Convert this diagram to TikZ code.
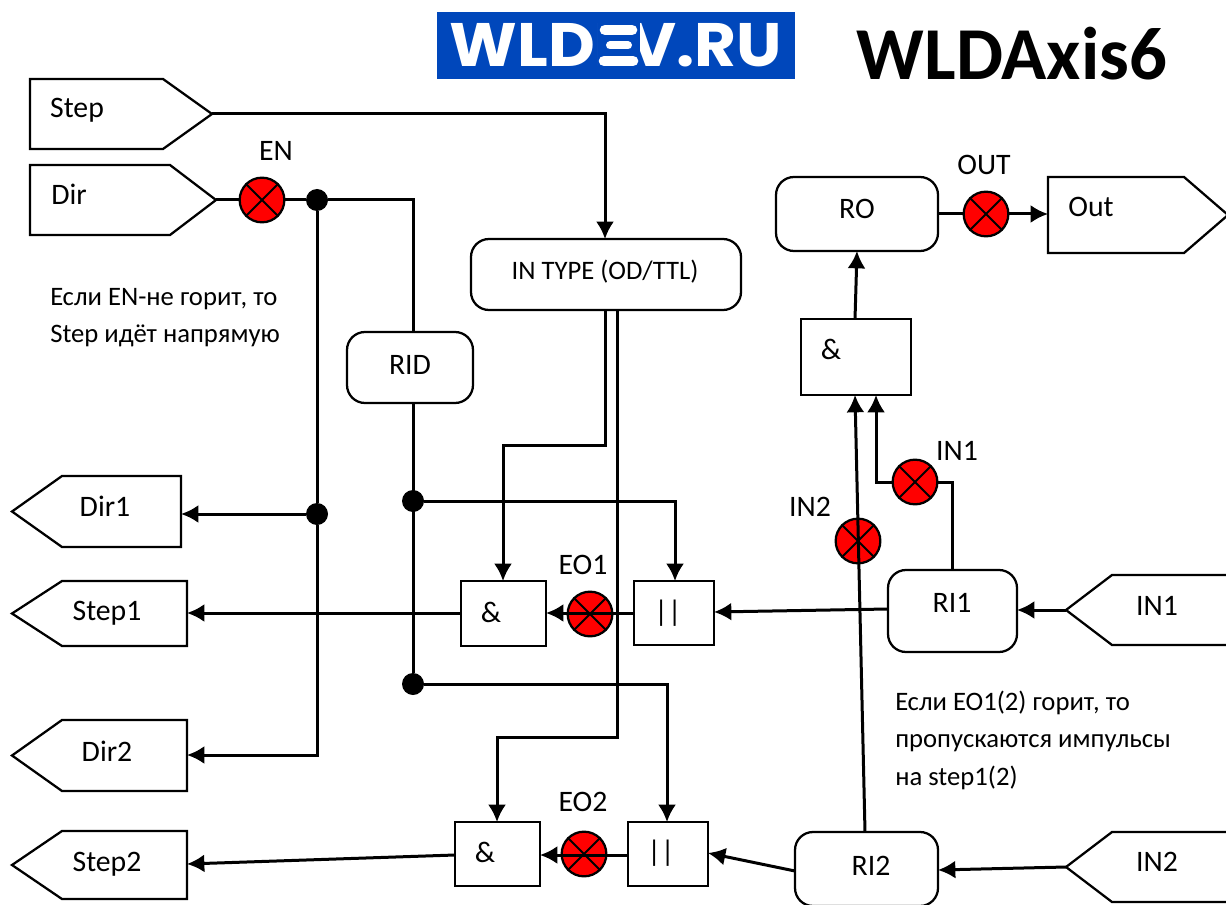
\documentclass[tikz,border=0pt]{standalone}
\usepackage{fontspec}
\setmainfont{Carlito}
\newfontfamily\logofont{Poppins}[Scale=1]
\usetikzlibrary{arrows.meta}
\definecolor{logoblue}{HTML}{0047BB}
\newcommand{\fsz}[1]{\fontsize{#1}{#1}\selectfont}
\tikzset{
  x=0.75pt,y=-0.75pt,
  shapeline/.style={draw=black,line width=1.7pt,line join=miter},
  plainbox/.style={shapeline,fill=white,rectangle,inner sep=0pt},
  roundbox/.style={plainbox,rounded corners=13.5pt},
  lbl/.style={inner sep=0pt,font=\fsz{22.3}},
  notelbl/.style={inner sep=0pt,anchor=west,font=\fsz{20}},
  wire/.style={line width=2.25pt,draw=black},
  arr/.style={wire,-{Latex[length=13pt,width=13.5pt]}},
  lampnode/.style={circle,draw=black,line width=1.7pt,fill=red,inner sep=0pt,minimum size=33.5pt},
  dotnode/.style={circle,fill=black,inner sep=0pt,minimum size=16.5pt},
  logobar/.style={draw=white,line cap=round},
}
% box by pixel corners
\newcommand{\bx}[7][plainbox]{\node[#1,minimum width=#5*0.75pt-#3*0.75pt,minimum height=#6*0.75pt-#4*0.75pt] (#2) at ({(#3+#5)/2},{(#4+#6)/2}) {#7};}
% lamp
\newcommand{\lamp}[3]{\node[lampnode] (#1) at (#2,#3) {};
  \draw[line width=1.5pt] (#1.45) -- (#1.225) (#1.135) -- (#1.315);}
% pentagon pointing right: left x, knee x, tip x, top y, bottom y
\newcommand{\pentR}[6]{\draw[shapeline,fill=white] (#2,#5) -- (#3,#5) -- (#4,{(#5+#6)/2}) -- (#3,#6) -- (#2,#6) -- cycle;
  \coordinate (#1) at (#4,{(#5+#6)/2});}
% pentagon pointing left: tip x, knee x, right x, top y, bottom y
\newcommand{\pentL}[6]{\draw[shapeline,fill=white] (#2,{(#5+#6)/2}) -- (#3,#5) -- (#4,#5) -- (#4,#6) -- (#3,#6) -- cycle;
  \coordinate (#1) at (#2,{(#5+#6)/2});}
\begin{document}
\begin{tikzpicture}
\useasboundingbox (0,0) rectangle (1226,905);
% header
\node[fill=logoblue,inner sep=0pt,minimum width=268.5pt,minimum height=50.25pt] (logo) at (616,45.5) {};
\node[inner sep=0pt,text=white,font=\logofont\fsz{46}\bfseries] (logotext) at (616,45) {\scalebox{1.05}[1]{WLDEV.RU}};
\fill[logoblue] (598,20) rectangle (639.5,70);
\draw[logobar,line width=8pt] (605,30) -- (632,30);
\draw[logobar,line width=6pt] (610,45.5) -- (628,45.5);
\draw[logobar,line width=8pt] (604,61) -- (633,61);
\node[inner sep=0pt,font=\fsz{56}\bfseries] (title) at (1012,54) {WLDAxis6};
% signal shapes
\pentR{stepin}{30}{163}{212}{79}{149}{}
\pentR{dirin}{30}{170}{216}{165}{235}{}
\pentR{outsig}{1048}{1184}{1228}{177}{253}{}
\pentL{dira}{12}{62}{181}{476}{547}{}
\pentL{stepa}{12}{62}{187}{581}{646}{}
\pentL{dirb}{12}{62}{187}{720}{791}{}
\pentL{stepb}{12}{62}{187}{831}{899}{}
\pentL{ina}{1066}{1112}{1228}{575}{645}{}
\pentL{inb}{1066}{1112}{1228}{832}{902}{}
% boxes
\bx[roundbox]{intype}{471}{239}{741}{310}{}
\bx[roundbox]{rid}{347}{332}{473}{403}{}
\bx[roundbox]{ro}{776}{177}{938}{251}{}
\bx[roundbox]{ria}{888}{570}{1017}{652}{}
\bx[roundbox]{rib}{795}{832}{938}{906}{}
\bx{andtop}{801}{319}{911}{395}{}
\bx{anda}{461}{581}{546}{646}{}
\bx{ora}{634}{581}{714}{645}{}
\bx{andb}{455}{822}{540}{886}{}
\bx{orb}{628}{822}{708}{886}{}
% lamps
\lamp{lampen}{262}{200}
\lamp{lampout}{986}{214}
\lamp{lampina}{915}{482}
\lamp{lampinb}{858}{541}
\lamp{lampa}{590}{614}
\lamp{lampb}{584}{854}
% dots
\node[dotnode] (dotdir) at (317,200) {};
\node[dotnode] (dotdira) at (317,514) {};
\node[dotnode] (dotrida) at (413,501) {};
\node[dotnode] (dotridb) at (413,684) {};
% junction coordinates
\coordinate (steptop) at (605,114);
\coordinate (typeleft) at (605,310);
\coordinate (typeleftb) at (605,445);
\coordinate (typelefta) at (503,445);
\coordinate (typeright) at (617,310);
\coordinate (typerightb) at (617,737);
\coordinate (typerighta) at (497,737);
\coordinate (ridtop) at (413,200);
\coordinate (ridin) at (413,332);
\coordinate (ridout) at (413,403);
\coordinate (dirbend) at (317,755);
\coordinate (orainT) at (675,501);
\coordinate (orbinT) at (667,684);
\coordinate (andaT) at (503,581);
\coordinate (orTa) at (675,581);
\coordinate (andbT) at (497,822);
\coordinate (orTb) at (667,822);
\coordinate (stepintop) at (605,239);
\coordinate (ina1) at (952,570);
\coordinate (ina2) at (952,482);
\coordinate (ina3) at (876,482);
\coordinate (ina4) at (876,395);
\coordinate (inb1) at (865,832);
\coordinate (inb2) at (855,395);
\coordinate (andtopout) at (855,319);
\coordinate (roin) at (857,251);
\coordinate (rowest) at (938,214);
\coordinate (outin) at (1048,214);
\coordinate (orap) at (634,613);
\coordinate (andap) at (546,613);
\coordinate (anda1) at (461,613);
\coordinate (stepa1) at (187,613);
\coordinate (orbp) at (628,855);
\coordinate (andbp) at (540,855);
\coordinate (andb1) at (455,855);
\coordinate (stepb1) at (187,864);
\coordinate (diraend) at (181,514);
\coordinate (dirbend2) at (187,755);
\coordinate (ria1) at (888,609);
\coordinate (orarr) at (714,612);
\coordinate (rib1) at (795,871);
\coordinate (orbrr) at (708,853);
\coordinate (inarr) at (1017,610);
\coordinate (inbrr) at (938,870);
% wires
\draw[arr] (stepin) -- (steptop) -- (stepintop);
\draw[wire] (dirin) -- (lampen);
\draw[wire] (lampen) -- (dotdir) -- (ridtop) -- (ridin);
\draw[wire] (dotdir) -- (dotdira);
\draw[arr] (dotdira) -- (diraend);
\draw[arr] (dotdira) -- (dirbend) -- (dirbend2);
\draw[arr] (typeleft) -- (typeleftb) -- (typelefta) -- (andaT);
\draw[arr] (typeright) -- (typerightb) -- (typerighta) -- (andbT);
\draw[wire] (ridout) -- (dotridb);
\draw[arr] (dotrida) -- (orainT) -- (orTa);
\draw[arr] (dotridb) -- (orbinT) -- (orTb);
\draw[arr] (orap) -- (andap);
\draw[arr] (anda1) -- (stepa1);
\draw[arr] (orbp) -- (andbp);
\draw[arr] (andb1) -- (stepb1);
\draw[arr] (ria1) -- (orarr);
\draw[arr] (rib1) -- (orbrr);
\draw[arr] (ina) -- (inarr);
\draw[arr] (inb) -- (inbrr);
\draw[arr] (inb1) -- (inb2);
\draw[wire] (ina1) -- (ina2) -- (lampina.east);
\draw[arr] (lampina.west) -- (ina3) -- (ina4);
\draw[arr] (andtopout) -- (roin);
\draw[wire] (rowest) -- (lampout.west);
\draw[arr] (lampout.east) -- (outin);
% labels
\node[lbl] (tstep) at (77,110) {Step};
\node[lbl] (tdir) at (69,194) {Dir};
\node[lbl] (tout) at (1091,207) {Out};
\node[lbl] (tdira) at (105,506) {Dir1};
\node[lbl] (tstepa) at (107,613) {Step1};
\node[lbl] (tdirb) at (107,751) {Dir2};
\node[lbl] (tstepb) at (107,864) {Step2};
\node[lbl] (tina) at (1157,606) {IN1};
\node[lbl] (tinb) at (1157,862) {IN2};
\node[lbl] (tria) at (952,603) {RI1};
\node[lbl] (trib) at (871,866) {RI2};
\node[lbl] (trid) at (410,365) {RID};
\node[lbl] (tro) at (857,209) {RO};
\node[lbl,font=\fsz{20}] (ttype) at (605,272) {IN TYPE (OD/TTL)};
\node[lbl] (tanda) at (491,612) {\&};
\node[lbl] (tandb) at (485,852) {\&};
\node[lbl] (tandt) at (831,349) {\&};
\node[lbl] (tora) at (668,613) {| \kern-0.226em|};
\node[lbl] (torb) at (661,853) {| \kern-0.226em|};
\node[lbl] (len) at (276,151) {EN};
\node[lbl] (lout) at (984,165) {OUT};
\node[lbl] (leoa) at (583,565) {EO1};
\node[lbl] (leob) at (583,802) {EO2};
\node[lbl] (lina) at (957,451) {IN1};
\node[lbl] (linb) at (810,507) {IN2};
\node[notelbl] (na1) at (50,299) {Если EN-не горит, то};
\node[notelbl] (na2) at (50,336) {Step идёт напрямую};
\node[notelbl] (nb1) at (895,703) {Если EO1(2) горит, то};
\node[notelbl] (nb2) at (895,743) {пропускаются импульсы};
\node[notelbl] (nb3) at (895,778) {на step1(2)};
\end{tikzpicture}
\end{document}
